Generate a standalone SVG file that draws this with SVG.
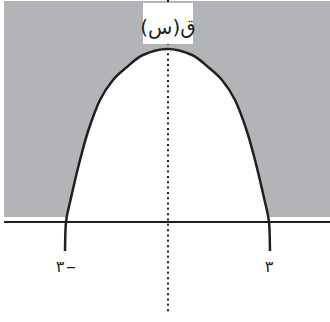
<svg xmlns="http://www.w3.org/2000/svg" width="330" height="322" viewBox="0 0 330 322">
<style>
.ink{stroke:#231f20;fill:none}
.lbl{font-family:"DejaVu Sans",sans-serif;fill:#231f20;text-anchor:middle}
</style>
<defs>
<path id="curve" d="M65,251 C65.17,246.17 65.08,230.5 66,222 C66.92,213.5 68.17,210.33 70.5,200 C72.83,189.67 77,171.67 80,160 C83,148.33 85.17,140 88.5,130 C91.83,120 95.92,108.33 100,100 C104.08,91.67 108.5,85.5 113,80 C117.5,74.5 122,71.17 127,67 C132,62.83 136.33,58 143,55 C149.67,52 159.5,49 167.5,49 C175.5,49 185.33,52 192,55 C198.67,58 203,62.83 208,67 C213,71.17 217.5,74.5 222,80 C226.5,85.5 230.92,91.67 235,100 C239.08,108.33 243.17,120 246.5,130 C249.83,140 252,148.33 255,160 C258,171.67 262.17,189.67 264.5,200 C266.83,210.33 268.08,213.5 269,222 C269.92,230.5 269.83,246.17 270,251"/>
</defs>
<g id="region">
<rect x="4" y="1" width="326" height="216" fill="#b2b4b7"/>
<use href="#curve" fill="#ffffff"/>
</g>
<g id="axes">
<line class="ink" x1="4" y1="222" x2="330" y2="222" stroke-width="2"/>
<line class="ink" x1="168" y1="0" x2="168" y2="313" stroke-width="2" stroke-dasharray="2 3.33"/>
</g>
<g id="graph">
<use href="#curve" class="ink" stroke-width="2.5"/>
</g>
<g id="labels">
<rect x="143" y="3" width="50" height="41" fill="#ffffff"/>
<text class="lbl" x="168" y="34" font-size="20" direction="rtl" unicode-bidi="embed">ق(س)</text>
<text class="lbl" y="272" font-size="16"><tspan x="60">٣</tspan><tspan x="71" dy="1" font-size="20">–</tspan></text>
<text class="lbl" x="269" y="272" font-size="16">٣</text>
</g>
</svg>
